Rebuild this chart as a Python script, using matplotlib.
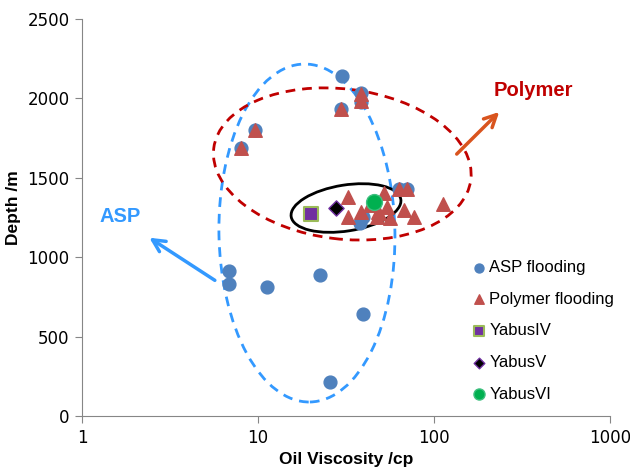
import matplotlib
matplotlib.use('Agg')
import matplotlib.pyplot as plt
from matplotlib.patches import Ellipse
from matplotlib.transforms import ScaledTranslation

# ---- data (viscosity in cp, depth in m) ----
asp_visc  = [30.1, 38.7, 38.7, 29.5, 9.6, 8.0, 63.1, 70.3, 38.2, 39.5,
             6.86, 6.86, 11.2, 22.4, 39.6, 25.6]
asp_depth = [2143, 2036, 1975, 1933, 1801, 1690, 1430, 1430, 1215, 1255,
             915, 831, 814, 888, 640, 212]

poly_visc  = [38.7, 38.7, 29.5, 9.6, 8.0, 32.5, 32.5, 38.7, 51.9, 49.0,
              54.2, 47.4, 56.1, 63.1, 70.3, 67.4, 76.7, 112, 48.0, 43.5]
poly_depth = [2030, 1985, 1933, 1801, 1690, 1381, 1255, 1287, 1402, 1276,
              1318, 1255, 1245, 1430, 1430, 1297, 1255, 1335, 1287, 1330]

yabus_iv  = ([20.1], [1270])
yabus_v   = ([27.6], [1308])
yabus_vi  = ([45.5], [1346])

x_ticks = [1, 10, 100, 1000]
y_ticks = [0, 500, 1000, 1500, 2000, 2500]

plt.rcParams['font.family'] = ['Liberation Sans', 'DejaVu Sans']

fig = plt.figure(figsize=(6.3, 4.72), dpi=100)
ax = fig.add_axes([0.1302, 0.1186, 0.838, 0.841])

ax.scatter(asp_visc, asp_depth, s=85, color='#4f81bd', zorder=3,
           label='ASP flooding')
ax.scatter(poly_visc, poly_depth, s=95, marker='^', color='#c0504d',
           zorder=4, label='Polymer flooding')
ax.scatter(*yabus_iv, s=95, marker='s', color='#7030a0',
           edgecolor='#9bbb59', linewidth=1.5, zorder=5, label='YabusIV')
ax.scatter(*yabus_v, s=60, marker='D', color='black',
           edgecolor='#7030a0', linewidth=1.0, zorder=5, label='YabusV')
ax.scatter(*yabus_vi, s=130, color='#00b050', edgecolor='#40c080',
           linewidth=1.0, zorder=6, label='YabusVI')

ax.set_xscale('log')
ax.set_xlim(1, 1000)
ax.set_ylim(0, 2500)
ax.set_xticks(x_ticks)
ax.set_xticklabels([str(t) for t in x_ticks])
ax.minorticks_off()
ax.set_yticks(y_ticks)
for lab in ax.get_xticklabels() + ax.get_yticklabels():
    lab.set_family('DejaVu Sans')
    lab.set_fontsize(12)

for side in ['top', 'right']:
    ax.spines[side].set_visible(False)
for side in ['left', 'bottom']:
    ax.spines[side].set_color('#868686')
ax.tick_params(direction='out', length=5, color='#868686', pad=4)

ax.set_xlabel('Oil Viscosity /cp', fontsize=12.5, fontweight='bold', labelpad=4)
ax.set_ylabel('Depth /m', fontsize=12.5, fontweight='bold')
ax.yaxis.set_label_coords(-0.115, 0.524)


# ellipses are sized in inches, centred at an axes-fraction point
def add_ellipse(cx, cy, w, h, angle, **kw):
    tr = fig.dpi_scale_trans + ScaledTranslation(cx, cy, ax.transAxes)
    ax.add_patch(Ellipse((0, 0), w, h, angle=angle, transform=tr,
                         fill=False, clip_on=False, **kw))


add_ellipse(0.426, 0.461, 1.76, 3.38, 1, edgecolor='#3399ff', lw=2,
            linestyle=(0, (3.5, 2.5)), zorder=2)
add_ellipse(0.493, 0.635, 2.59, 1.50, -7, edgecolor='#c00000', lw=2,
            linestyle=(0, (3.5, 2.5)), zorder=2)
add_ellipse(0.500, 0.524, 1.11, 0.46, 9, edgecolor='black', lw=2, zorder=2)

ax.annotate('', xy=(0.123, 0.453), xytext=(0.256, 0.338),
            xycoords='axes fraction',
            arrowprops=dict(arrowstyle='->', lw=2.5, color='#3399ff',
                            mutation_scale=22))
ax.text(0.073, 0.502, 'ASP', transform=ax.transAxes, color='#3399ff',
        fontsize=14.5, fontweight='bold', ha='center', va='center')

ax.annotate('', xy=(0.794, 0.771), xytext=(0.706, 0.655),
            xycoords='axes fraction',
            arrowprops=dict(arrowstyle='->', lw=2.5, color='#d9541e',
                            mutation_scale=22))
ax.text(0.855, 0.821, 'Polymer', transform=ax.transAxes, color='#c00000',
        fontsize=14.5, fontweight='bold', ha='center', va='center')

ax.legend(loc='upper left', bbox_to_anchor=(0.740, 0.393), frameon=False,
          fontsize=12, markerscale=0.7, handlelength=0.8, handletextpad=0.2,
          labelspacing=1.0, borderpad=0, borderaxespad=0)

fig.savefig('out.png', dpi=100)
